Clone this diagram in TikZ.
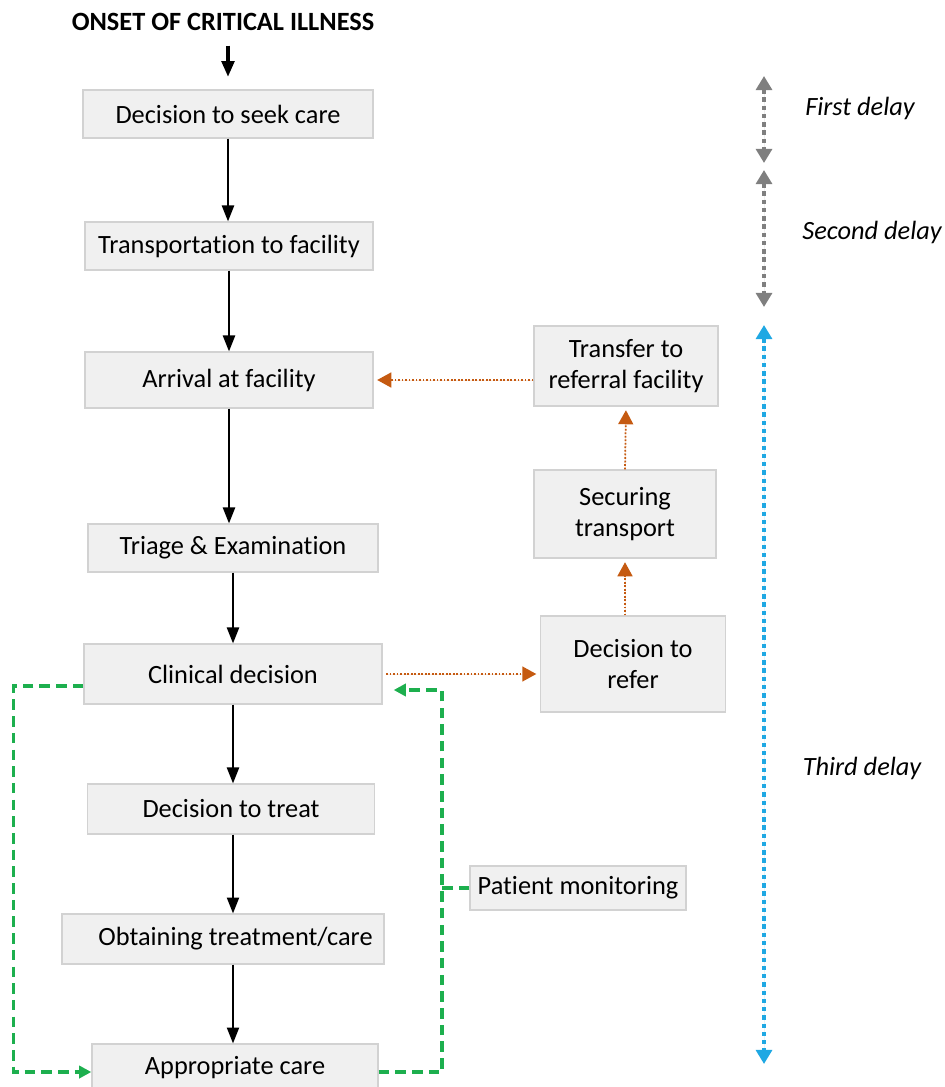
\documentclass[tikz,border=0pt]{standalone}
\usepackage{fontspec}
\setmainfont{Carlito}[Ligatures=NoCommon]
\usetikzlibrary{arrows.meta}

\definecolor{boxfill}{HTML}{F0F0F0}
\definecolor{boxline}{HTML}{D2D2D2}
\definecolor{referorange}{HTML}{C55A11}
\definecolor{loopgreen}{HTML}{1DAF4E}
\definecolor{delayblue}{HTML}{1FA8E3}
\definecolor{delaygray}{HTML}{7F7F7F}

\tikzset{
  stepbox/.style={draw=boxline, fill=boxfill, line width=0.8pt, minimum width=5.8cm,
    minimum height=0.96cm, inner sep=2pt, align=center, font=\fontsize{15}{18}\selectfont},
  flow/.style={-{Triangle[length=9pt,width=7pt]}, line width=0.8pt},
  refer/.style={-{Triangle[length=8pt,width=8.5pt]}, draw=referorange, fill=referorange,
    line width=1pt, dash pattern=on 1pt off 1pt},
  greenloop/.style={draw=loopgreen, line width=2pt, dash pattern=on 6pt off 3.5pt},
  delay/.style={{Triangle[length=8pt,width=9pt]}-{Triangle[length=8pt,width=9pt]},
    line width=2.5pt, dash pattern=on 2.5pt off 2.2pt},
  delaylabel/.style={font=\itshape\fontsize{15}{18}\selectfont}
}

\begin{document}
\begin{tikzpicture}[x=0.02cm, y=-0.02cm]
\useasboundingbox (0,0) rectangle (944,1087);

% main pathway
\node[font=\bfseries\fontsize{15}{18}\selectfont] (onset) at (223,22) {ONSET OF CRITICAL ILLNESS};
\node[stepbox] (seek) at (228,114) {Decision to seek care};
\node[stepbox, minimum width=5.76cm] (transport) at (229,246) {Transportation to facility};
\node[stepbox, minimum width=5.76cm, minimum height=1.12cm] (arrival) at (229,380) {Arrival at facility};
\node[stepbox] (triage) at (233,548) {Triage \& Examination};
\node[stepbox, minimum width=5.96cm, minimum height=1.2cm] (clin) at (233,674) {Clinical decision};
\node[stepbox, minimum width=5.74cm, minimum height=1.0cm] (treat) at (231,809) {Decision to treat};
\node[stepbox, minimum width=6.44cm, minimum height=1.0cm] (obtain) at (223,939) {\hspace{0.5cm}Obtaining treatment/care};
\node[stepbox, minimum width=5.72cm] (appr) at (235,1068) {Appropriate care};

% referral branch
\node[stepbox, minimum width=3.68cm, minimum height=1.6cm] (transfer) at (626,366) {Transfer to\\referral facility};
\node[stepbox, minimum width=3.64cm, minimum height=1.76cm] (securing) at (625,514) {Securing\\transport};
\node[stepbox, minimum width=3.7cm, minimum height=1.92cm] (refer) at (633,664) {Decision to\\refer};
\node[stepbox, minimum width=4.32cm, minimum height=0.88cm] (monitor) at (578,888) {Patient monitoring};

\draw[flow, line width=2.2pt, shorten <=5pt, shorten >=7pt] (seek.north |- onset.south) -- (seek.north);
\draw[flow] (seek.south) -- (seek.south |- transport.north);
\draw[flow] (transport.south) -- (transport.south |- arrival.north);
\draw[flow] (arrival.south) -- (arrival.south |- triage.north);
\draw[flow] (triage.south) -- (triage.south |- clin.north);
\draw[flow] (clin.south) -- (clin.south |- treat.north);
\draw[flow] (clin.south |- treat.south) -- (clin.south |- obtain.north);
\draw[flow] (clin.south |- obtain.south) -- (clin.south |- appr.north);

\draw[refer, shorten <=2pt, shorten >=2pt] (clin.east) -- (clin.east -| refer.west);
\draw[refer, shorten >=2pt] (refer.north -| securing.south) -- (securing.south);
\draw[refer, shorten >=2pt] (securing.north) -- (transfer.south);
\draw[refer, shorten >=2pt] (transfer.west |- arrival.east) -- (arrival.east);

% feedback loop
\coordinate (loopturn) at (442,690);
\draw[greenloop, -{Triangle[length=7pt,width=7pt]}] ([yshift=-0.24cm]clin.west) -- ++(-70,0) |- ([yshift=-0.08cm]appr.west);
\draw[greenloop, -{Triangle[length=7pt,width=7pt]}, shorten >=0.22cm] ([yshift=-0.08cm]appr.east) -| (loopturn) -- (loopturn -| clin.east);
\draw[greenloop] (monitor.west) -- (monitor.west -| loopturn);

% delays
\coordinate (d1top) at (764,76);
\coordinate (d1bot) at (764,163);
\coordinate (d2top) at (764,170);
\coordinate (d2bot) at (764,307);
\coordinate (d3top) at (764,325);
\coordinate (d3bot) at (764,1064);
\draw[delay, draw=delaygray, fill=delaygray] (d1top) -- (d1bot);
\draw[delay, draw=delaygray, fill=delaygray] (d2top) -- (d2bot);
\draw[delay, draw=delayblue, fill=delayblue] (d3top) -- (d3bot);
\node[delaylabel] (first) at (860,108) {First delay};
\node[delaylabel] (second) at (872,232) {Second delay};
\node[delaylabel] (third) at (862,768) {Third delay};
\end{tikzpicture}
\end{document}
